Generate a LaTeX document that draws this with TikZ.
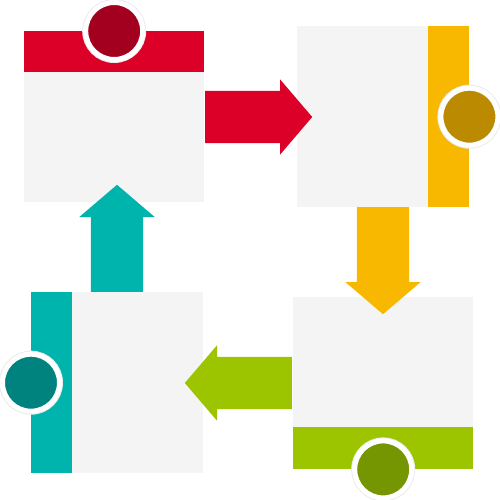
\documentclass[tikz,border=0pt]{standalone}
\usepackage{tikz}
\usetikzlibrary{shapes.arrows}
\definecolor{paper}{HTML}{F4F4F4}
\definecolor{crimson}{HTML}{DC0028}
\definecolor{crimsondot}{HTML}{A3001F}
\definecolor{amber}{HTML}{F9B800}
\definecolor{amberdot}{HTML}{BC8A00}
\definecolor{lime}{HTML}{9CC500}
\definecolor{limedot}{HTML}{759600}
\definecolor{sea}{HTML}{00B4AE}
\definecolor{seadot}{HTML}{00837F}

\begin{document}
\begin{tikzpicture}[
                          x=1pt, y=-1pt,
                          panel/.style={fill=paper, inner sep=0pt, anchor=north west},
                          badge/.style={circle, inner sep=0pt, minimum size=57pt,
                            line width=5pt, draw=white,
                            preaction={draw=black!8, line width=7pt}},
                          flow/.style={single arrow, anchor=tail,
                            single arrow head extend=11.5pt, single arrow tip angle=99,
                            minimum height=107pt},
                          across/.style={flow, inner xsep=0pt, inner ysep=26pt},
                          updown/.style={flow, inner xsep=26pt, inner ysep=0pt}]
                      \useasboundingbox (0,0) rectangle (500,500);
                      % panels
                      \node[panel, minimum width=180pt, minimum height=171pt] (step_1) at (24,31) {};
                      \node[panel, minimum width=172pt, minimum height=181pt] (step_2) at (297,26) {};
                      \node[panel, minimum width=180pt, minimum height=172pt] (step_3) at (293,297) {};
                      \node[panel, minimum width=172pt, minimum height=181pt] (step_4) at (31,292) {};
                      % coloured bars
                      \fill[crimson] (step_1.north west) rectangle ([yshift=-41pt]step_1.north east);
                      \fill[amber] ([xshift=-41pt]step_2.north east) rectangle (step_2.south east);
                      \fill[lime] ([yshift=42pt]step_3.south west) rectangle (step_3.south east);
                      \fill[sea] (step_4.north west) rectangle ([xshift=41pt]step_4.south west);
                      % badges
                      \node[badge, fill=crimsondot] (dot_1) at (step_1.north) {};
                      \node[badge, fill=amberdot] (dot_2) at (step_2.east) {};
                      \node[badge, fill=limedot] (dot_3) at (step_3.south) {};
                      \node[badge, fill=seadot] (dot_4) at (step_4.west) {};
                      % arrows between panels
                      \node[across, fill=crimson] (go_12) at (205,117) {};
                      \node[updown, fill=amber, shape border rotate=270] (go_23) at (383,207) {};
                      \node[across, fill=lime, shape border rotate=180] (go_34) at (292,383) {};
                      \node[updown, fill=sea, shape border rotate=90] (go_41) at (117,292) {};
                  \end{tikzpicture}
\end{document}
